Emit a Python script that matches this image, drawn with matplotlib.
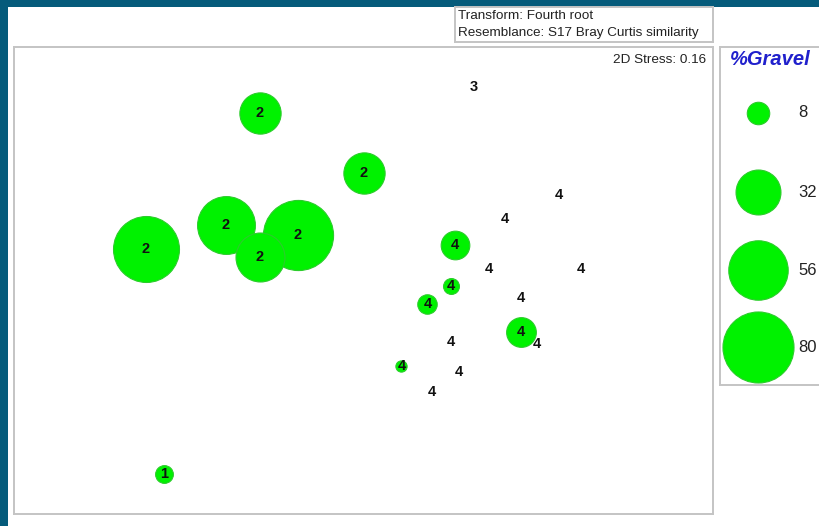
import numpy as np
import matplotlib.pyplot as plt
from matplotlib.patches import Rectangle

# --- nMDS ordination (fourth-root, Bray-Curtis) ---
group_1_x = [-1.00]
group_1_y = [-0.97]
group_1_gravel = [5]

group_2_x = [-0.52, 0.00, -1.09, -0.69, -0.33, -0.52]
group_2_y = [0.84, 0.54, 0.16, 0.28, 0.23, 0.12]
group_2_gravel = [27, 27, 69, 53, 78, 38]

group_3_x = [0.55]
group_3_y = [0.97]
group_3_gravel = [0]

group_4_x = [0.98, 0.71, 0.46, 0.63, 1.09, 0.44, 0.32, 0.79, 0.79, 0.87, 0.44, 0.19, 0.48, 0.34]
group_4_y = [0.43, 0.31, 0.18, 0.06, 0.06, -0.03, -0.12, -0.09, -0.26, -0.32, -0.31, -0.43, -0.46, -0.56]
group_4_gravel = [0, 0, 13, 0, 0, 4, 6, 0, 14, 0, 0, 2, 0, 0]

legend_values = [8, 32, 56, 80]
stress = 0.16

# --- style ---
bg = '#055b7b'
green = '#00f200'
edge = '#2ccc2c'
frame = '#c4c4c4'
size_scale = 32.7      # points^2 per % gravel
plt.rcParams['font.family'] = ['Liberation Sans', 'DejaVu Sans']

W, H = 819, 526
fig = plt.figure(figsize=(W / 100, H / 100), dpi=100, facecolor=bg)
fig.patches.append(Rectangle((8 / W, 0), 1, (H - 7) / H, transform=fig.transFigure,
                             facecolor='white', edgecolor='none', zorder=-10))


def box_axes(x0, y0, x1, y1):
    ax = fig.add_axes([x0 / W, (H - y1) / H, (x1 - x0) / W, (y1 - y0) / H])
    ax.set_xticks([])
    ax.set_yticks([])
    for s in ax.spines.values():
        s.set_color(frame)
        s.set_linewidth(1.4)
    return ax


# --- main ordination plot ---
ax = box_axes(14, 47, 713, 514)
ax.set_xlim(-1.75, 1.75)
ax.set_ylim(-1.17, 1.17)

groups = [
    ('1', group_1_x, group_1_y, group_1_gravel),
    ('2', group_2_x, group_2_y, group_2_gravel),
    ('3', group_3_x, group_3_y, group_3_gravel),
    ('4', group_4_x, group_4_y, group_4_gravel),
]
for label, xs, ys, gv in groups:
    for x, y, g in zip(xs, ys, gv):
        if g > 0:
            ax.scatter(x, y, s=size_scale * g, color=green, edgecolors=edge,
                       linewidths=0.8, zorder=2)
for label, xs, ys, gv in groups:
    for x, y in zip(xs, ys):
        ax.text(x, y, label, ha='center', va='center', fontsize=10.5,
                fontweight='bold', color='#111111', zorder=3)

ax.text(0.99, 0.972, f'2D Stress: {stress:.2f}', transform=ax.transAxes,
        ha='right', va='center', fontsize=9.7, color='#222222')

# --- transform / resemblance box ---
tb = box_axes(455, 7, 713, 42)
tb.text(0.01, 0.74, 'Transform: Fourth root', transform=tb.transAxes,
        ha='left', va='center', fontsize=9.7, color='#222222')
tb.text(0.01, 0.25, 'Resemblance: S17 Bray Curtis similarity', transform=tb.transAxes,
        ha='left', va='center', fontsize=9.7, color='#222222')

# --- bubble legend ---
lg = box_axes(720, 47, 826, 385)
lg.set_xlim(0, 1)
lg.set_ylim(0, 1)
lg.text(0.09, 0.962, '%Gravel', transform=lg.transAxes, ha='left', va='center',
        fontsize=14.5, fontweight='bold', fontstyle='italic', color='#2020cc')
legend_y = [0.805, 0.571, 0.340, 0.112]
for v, ly in zip(legend_values, legend_y):
    lg.scatter(0.36, ly, s=size_scale * v, color=green, edgecolors=edge,
               linewidths=0.8, clip_on=False)
    lg.text(0.736, ly, str(v), ha='left', va='center', fontsize=12, color='#222222')

fig.savefig('out.png', dpi=100, facecolor=bg)
